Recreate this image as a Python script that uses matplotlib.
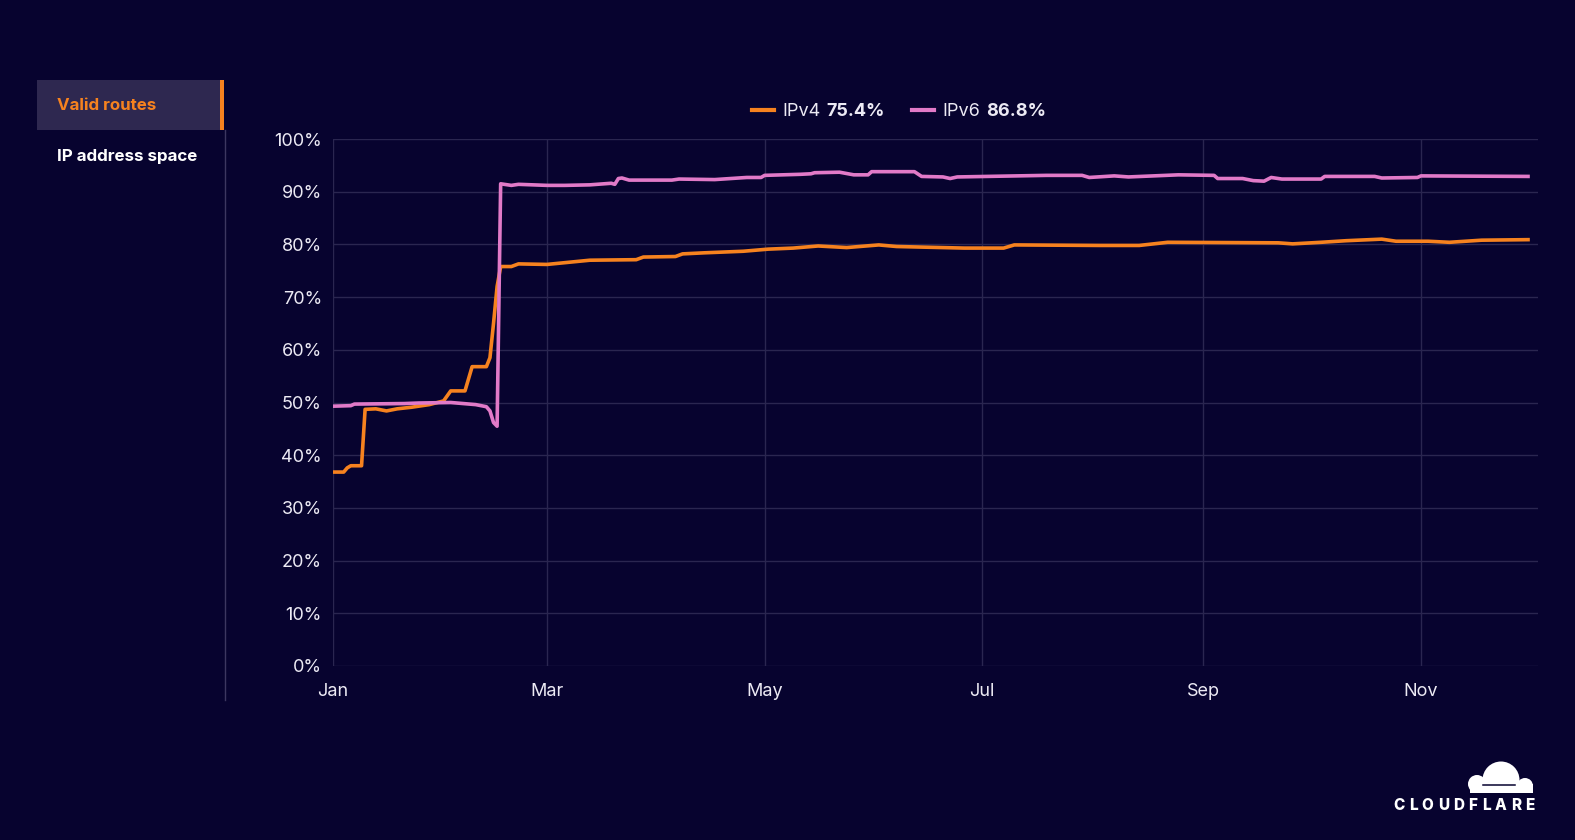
#!/usr/bin/env python3
"""
RPKI valid routes - IPv4 vs IPv6 share over 2024 (Cloudflare Radar style).
"""

import matplotlib
matplotlib.use('Agg')  # Non-interactive backend
import matplotlib.pyplot as plt
import matplotlib.dates as mdates
from matplotlib.patches import Rectangle, Ellipse
import pandas as pd

W, H = 1575, 840
BG = '#07032f'
ORANGE = '#f6821f'
PINK = '#e17ac8'
GRID = '#2a2650'
TEXT = '#eceaf4'

plt.rcParams['font.family'] = ['Inter', 'DejaVu Sans']

# days since 1 Jan 2024 and % of valid routes
ipv4_day = [0, 3, 4, 5, 8, 9, 12, 15, 18, 22, 27, 31, 33, 37, 39, 43, 44, 45, 46,
            47, 50, 52, 60, 72, 85, 87, 96, 98, 104, 115, 122, 129, 136, 144,
            153, 158, 177, 188, 191, 215, 226, 234, 265, 269, 277, 284, 294,
            298, 307, 313, 322, 335]
ipv4_val = [36.8, 36.8, 37.6, 38.0, 38.0, 48.7, 48.8, 48.4, 48.8, 49.1, 49.6,
            50.3, 52.2, 52.2, 56.8, 56.8, 58.5, 65.0, 72.0,
            75.8, 75.8, 76.3, 76.2, 77.0, 77.1, 77.6, 77.7, 78.2, 78.4, 78.7,
            79.1, 79.3, 79.7, 79.4, 79.9, 79.6, 79.3, 79.3, 79.9, 79.8, 79.8,
            80.4, 80.3, 80.1, 80.4, 80.7, 81.0, 80.6, 80.6, 80.4, 80.8, 80.9]

ipv6_day = [0, 5, 6, 20, 24, 33, 40, 43, 44, 45, 46, 47, 50, 52, 60, 65, 72, 78,
            79, 80, 81, 83, 95, 97, 107, 116, 120, 121, 131, 134, 135, 142, 146,
            150, 151, 163, 165, 171, 173, 175, 200, 210, 212, 219, 223, 237,
            247, 248, 255, 258, 261, 263, 266, 277, 278, 292, 294, 304, 305, 335]
ipv6_val = [49.3, 49.4, 49.7, 49.8, 49.9, 50.0, 49.6, 49.2, 48.4, 46.2, 45.5,
            91.5, 91.2, 91.4, 91.2, 91.2, 91.3, 91.6, 91.4, 92.5, 92.6, 92.2,
            92.2, 92.4, 92.3, 92.7, 92.7, 93.1, 93.3, 93.4, 93.6, 93.7, 93.2,
            93.2, 93.8, 93.8, 92.9, 92.8, 92.5, 92.8, 93.1, 93.1, 92.7, 93.0,
            92.8, 93.2, 93.1, 92.5, 92.5, 92.1, 92.0, 92.7, 92.4, 92.4, 92.9,
            92.9, 92.6, 92.7, 93.0, 92.9]

legend_names = ['IPv4', 'IPv6']
legend_values = ['75.4%', '86.8%']
menu_items = ['Valid routes', 'IP address space']
y_ticks = list(range(0, 101, 10))

start = pd.Timestamp('2024-01-01')
ipv4_dates = start + pd.to_timedelta(ipv4_day, unit='D')
ipv6_dates = start + pd.to_timedelta(ipv6_day, unit='D')


def fx(x):
    return x / W


def fy(y):
    return 1 - y / H


fig = plt.figure(figsize=(W / 100, H / 100), dpi=100, facecolor=BG)

# Main plot area
ax = fig.add_axes([fx(333), fy(666), fx(1538 - 333), (666 - 139) / H])
ax.set_facecolor(BG)
ax.plot(ipv4_dates, ipv4_val, color=ORANGE, linewidth=2.6, solid_joinstyle='round')
ax.plot(ipv6_dates, ipv6_val, color=PINK, linewidth=2.6, solid_joinstyle='round')

ax.set_ylim(0, 100)
ax.set_xlim(start, start + pd.Timedelta(days=337.8))
ax.set_yticks(y_ticks)
ax.set_yticklabels([f'{t}%' for t in y_ticks])
ax.xaxis.set_major_locator(mdates.MonthLocator(bymonth=[1, 3, 5, 7, 9, 11]))
ax.xaxis.set_major_formatter(mdates.DateFormatter('%b'))
ax.tick_params(colors=TEXT, labelsize=13, length=0)
ax.tick_params(axis='y', pad=8)
ax.tick_params(axis='x', pad=12)
for s in ax.spines.values():
    s.set_visible(False)
ax.grid(True, color=GRID, linewidth=1)
ax.set_axisbelow(True)

# Left menu
fig.add_artist(Rectangle((fx(37), fy(130)), fx(220 - 37), (130 - 80) / H,
                         transform=fig.transFigure, facecolor='#2e2850', edgecolor='none'))
fig.add_artist(Rectangle((fx(220), fy(130)), fx(4), (130 - 80) / H,
                         transform=fig.transFigure, facecolor=ORANGE, edgecolor='none'))
fig.add_artist(plt.Line2D([fx(224.5), fx(224.5)], [fy(130), fy(700)],
                          transform=fig.transFigure, color='#3c3760', linewidth=1))
fig.text(fx(57), fy(106), menu_items[0], color=ORANGE, fontsize=12.2, fontweight='bold',
         va='center', ha='left')
fig.text(fx(57), fy(157), menu_items[1], color='white', fontsize=12.2, fontweight='bold',
         va='center', ha='left')

# Legend
fig.canvas.draw()
renderer = fig.canvas.get_renderer()
leg_x = [752, 912]
for i, (name, val) in enumerate(zip(legend_names, legend_values)):
    col = [ORANGE, PINK][i]
    x0 = leg_x[i]
    fig.add_artist(plt.Line2D([fx(x0), fx(x0 + 22)], [fy(110), fy(110)],
                              transform=fig.transFigure, color=col, linewidth=3))
    t = fig.text(fx(x0 + 30), fy(111), name, color=TEXT, fontsize=13,
                 va='center', ha='left')
    bb = t.get_window_extent(renderer)
    fig.text((bb.x1 + 6) / W, fy(111), val, color=TEXT, fontsize=13,
             fontweight='bold', va='center', ha='left')

# Cloudflare logo
cloud = [
    Ellipse((fx(1501), fy(780)), 37 / W, 37 / H),
    Ellipse((fx(1477), fy(784)), 18 / W, 18 / H),
    Ellipse((fx(1525), fy(786)), 16 / W, 16 / H),
]
for e in cloud:
    e.set_transform(fig.transFigure)
    e.set_facecolor('white')
    e.set_edgecolor('none')
    fig.add_artist(e)
fig.add_artist(Rectangle((fx(1470), fy(793)), fx(1533 - 1470), 9 / H,
                         transform=fig.transFigure, facecolor='white', edgecolor='none'))
fig.add_artist(Rectangle((fx(1460), fy(799)), fx(80), 6 / H,
                         transform=fig.transFigure, facecolor=BG, edgecolor='none'))
fig.add_artist(plt.Line2D([fx(1483), fx(1515)], [fy(784.5), fy(784.5)],
                          transform=fig.transFigure, color=BG, linewidth=1.1))

x = 1393
for ch in 'CLOUDFLARE':
    t = fig.text(x / W, fy(805), ch, color='white', fontsize=11, fontweight='heavy',
                 va='center', ha='left')
    x = t.get_window_extent(renderer).x1 + 4.3

fig.savefig('out.png', dpi=100, facecolor=BG)
